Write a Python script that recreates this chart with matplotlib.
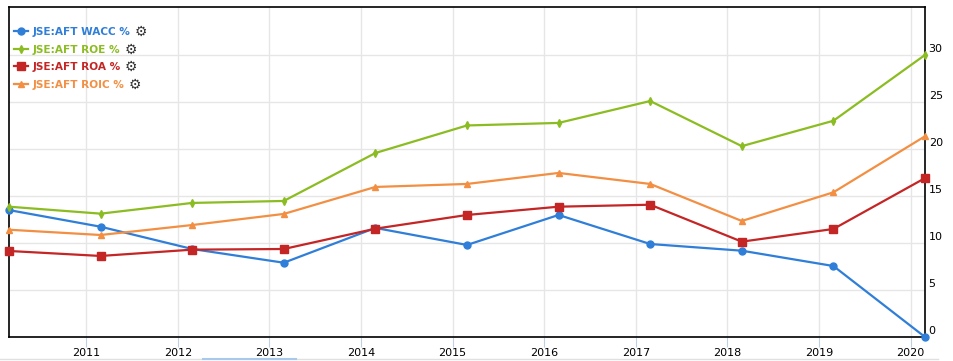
import matplotlib
matplotlib.use("Agg")
import matplotlib.pyplot as plt
from matplotlib.lines import Line2D
from matplotlib.transforms import blended_transform_factory

years = [2010, 2011, 2012, 2013, 2014, 2015, 2016, 2017, 2018, 2019, 2020]
wacc = [13.5, 11.73, 9.36, 7.9, 11.6, 9.79, 12.98, 9.89, 9.18, 7.55, 0.0]
roe = [13.86, 13.12, 14.26, 14.47, 19.57, 22.5, 22.77, 25.1, 20.3, 23.0, 30.0]
roa = [9.15, 8.62, 9.29, 9.36, 11.52, 12.98, 13.86, 14.07, 10.14, 11.49, 16.9]
roic = [11.41, 10.85, 11.91, 13.09, 15.96, 16.28, 17.45, 16.28, 12.34, 15.39, 21.35]

labels = ["JSE:AFT WACC %", "JSE:AFT ROE %", "JSE:AFT ROA %", "JSE:AFT ROIC %"]
colors = ["#2f7ed8", "#8bbc21", "#c42525", "#f28f43"]
markers = ["o", "d", "s", "^"]
msizes = [5, 4, 6, 5]
xticks = list(range(2011, 2021))
yticks = [0, 5, 10, 15, 20, 25, 30]

# fiscal year ends late February
x = [y + 0.157 for y in years]

fig = plt.figure(figsize=(9.54, 3.61), dpi=100)
ax = fig.add_axes([9 / 954, 24 / 361, 916 / 954, 330 / 361])

series = [wacc, roe, roa, roic]
for vals, lab, c, m, ms in zip(series, labels, colors, markers, msizes):
    ax.plot(x, vals, color=c, lw=1.6, marker=m, markersize=ms, label=lab,
            clip_on=False, zorder=3)

ax.set_xlim(x[0], x[-1])
ax.set_ylim(0, 35.1)
ax.set_xticks(xticks)
ax.set_xticklabels([str(t) for t in xticks], fontsize=8)
ax.set_yticks(yticks)
ax.set_yticklabels([])
ax.tick_params(axis="y", length=0)
ax.tick_params(axis="x", length=7, color="#c0d0e0", pad=1, labelcolor="black")
ax.grid(True, color="#e6e6e6", lw=1)
ax.set_axisbelow(True)
for s in ax.spines.values():
    s.set_color("black")
    s.set_linewidth(1.2)

trans = blended_transform_factory(ax.transAxes, ax.transData)
for t in yticks:
    ax.text(1.004, t + 0.65, str(t), transform=trans, fontsize=8,
            ha="left", va="center", clip_on=False)

leg = ax.legend(loc="upper left", bbox_to_anchor=(-0.003, 0.962), frameon=False,
                handlelength=1.4, handletextpad=0.4, labelspacing=0.72,
                borderaxespad=0.3, prop={"weight": "bold", "size": 7.6})
for txt, c in zip(leg.get_texts(), colors):
    txt.set_color(c)

fig.canvas.draw()
r = fig.canvas.get_renderer()
for txt in leg.get_texts():
    bb = txt.get_window_extent(r)
    fig.text((bb.x1 + 4) / 954, (bb.y0 + bb.y1) / 2 / 361, "\u2699",
             fontsize=10, color="#333333", ha="left", va="center")

fig.add_artist(Line2D([0, 938 / 954], [2 / 361, 2 / 361], color="#e0e0e0", lw=1))
fig.add_artist(Line2D([203 / 954, 296 / 954], [2 / 361, 2 / 361], color="#a8c8ec", lw=1.5))

fig.savefig("out.png", dpi=100)
